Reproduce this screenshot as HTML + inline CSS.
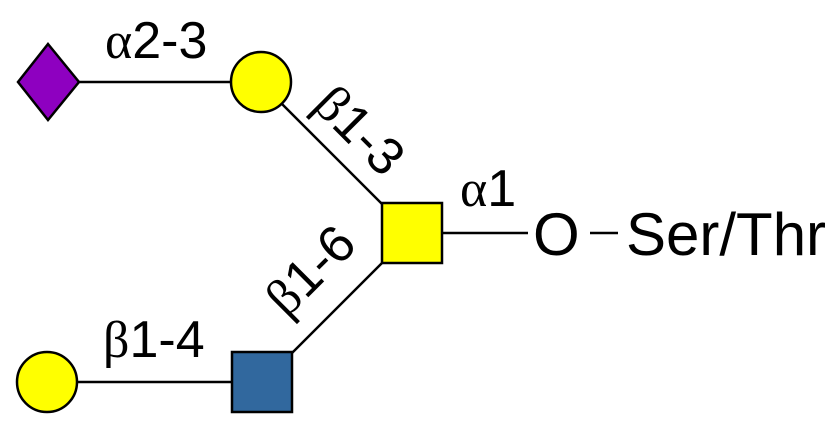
<!DOCTYPE html>
<html><head><style>html,body{margin:0;padding:0;background:#fff;}svg{display:block}.g{font-family:"Liberation Serif",serif;}</style></head>
<body>
<svg width="835" height="424" viewBox="0 0 835 424" xmlns="http://www.w3.org/2000/svg" font-family="Liberation Sans, Arial, sans-serif">
<g stroke="#000" stroke-width="2.5" fill="none">
<line x1="79" y1="82" x2="231" y2="82"/>
<line x1="282" y1="104" x2="383" y2="205"/>
<line x1="292" y1="353" x2="383" y2="262"/>
<line x1="442" y1="233" x2="528" y2="233"/>
<line x1="77" y1="382" x2="232" y2="382"/>
<line x1="590" y1="233" x2="618" y2="233"/>
</g>
<polygon points="48,44 79,82 48,120 18,82" fill="#8e00c0" stroke="#000" stroke-width="2.5"/>
<circle cx="261" cy="82" r="30" fill="#ffff00" stroke="#000" stroke-width="2.5"/>
<rect x="382" y="203" width="60" height="60" fill="#ffff00" stroke="#000" stroke-width="2.5"/>
<rect x="232" y="352" width="60" height="60" fill="#31689e" stroke="#000" stroke-width="2.5"/>
<circle cx="47" cy="382" r="30" fill="#ffff00" stroke="#000" stroke-width="2.5"/>
<g fill="#000" font-size="52">
<text x="105" y="58"><tspan class="g">α</tspan>2-3</text>
<text x="103" y="357"><tspan class="g">β</tspan>1-4</text>
<text x="460" y="206"><tspan class="g">α</tspan>1</text>
<text x="360" y="148" text-anchor="middle" transform="rotate(45 360 130)"><tspan class="g">β</tspan>1-3</text>
<text x="310" y="288" text-anchor="middle" transform="rotate(-45 310 270)"><tspan class="g">β</tspan>1-6</text>
<text x="533" y="255" font-size="60">O</text>
<text x="626" y="255" font-size="60">Ser/Thr</text>
</g>
</svg>
</body></html>
